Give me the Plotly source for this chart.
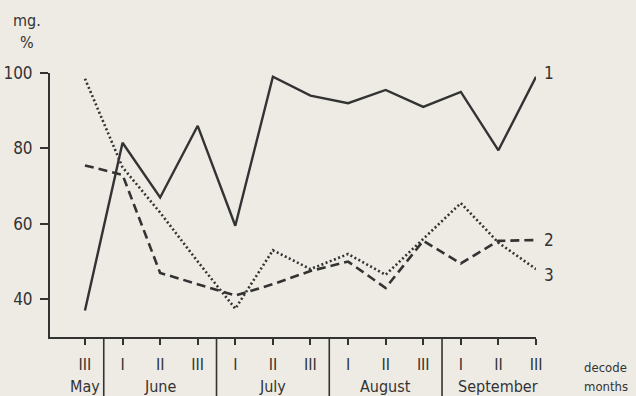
import plotly.graph_objects as go

decades = ["III", "I", "II", "III", "I", "II", "III", "I", "II", "III", "I", "II", "III"]
months = ["May", "June", "July", "August", "September"]
month_centers = [0, 2, 5, 8, 11]
month_bounds = [0.5, 3.5, 6.5, 9.5]
series1 = [37, 81.5, 67, 86, 59.5, 99, 94, 92, 95.5, 91, 95, 79.5, 99]
series2 = [75.5, 73, 47, 44, 41, 44, 47.5, 50, 43, 55.5, 49.5, 55.5, 55.7]
series3 = [98.5, 75, 63, 50, 37.5, 53, 48, 52, 46.5, 56, 65.5, 55, 48]
series_names = ["1", "2", "3"]
y_ticks = [40, 60, 80, 100]

INK = "#333333"
BG = "#eeebe5"
FONT = "Liberation Sans Narrow, DejaVu Sans Condensed, Roboto, sans-serif"

x = list(range(len(decades)))
fig = go.Figure()
styles = [("solid", 2.4), ("9px,5px", 2.6), ("2px,2.5px", 2.6)]
for ys, name, (dash, w) in zip([series1, series2, series3], series_names, styles):
    fig.add_trace(go.Scatter(x=x, y=ys, mode="lines", name=name,
                             line=dict(color=INK, width=w, dash=dash),
                             showlegend=False, cliponaxis=False))

# end labels
label_y = [series1[-1] + 1, series2[-1], series3[-1] - 1.5]
for name, yv in zip(series_names, label_y):
    fig.add_annotation(x=x[-1], y=yv, text=name, showarrow=False, xanchor="left",
                       xshift=6, font=dict(family=FONT, size=17, color=INK))

X0, X1 = -0.93, 12
Y0, Y1 = 30, 100
L, R, T, B = 50, 100, 73, 59
W, H = 636, 396
plot_h = H - T - B
plot_w = W - L - R

# month separators (extend below axis)
for mb in month_bounds:
    fig.add_shape(type="line", xref="paper", yref="paper",
                  x0=(mb - X0) / (X1 - X0), x1=(mb - X0) / (X1 - X0),
                  y0=0, y1=-B / plot_h, line=dict(color=INK, width=1.6))

for m, c in zip(months, month_centers):
    fig.add_annotation(x=c, xref="x", yref="paper", y=-(386 - (H - B)) / plot_h,
                       text=m, showarrow=False, yanchor="middle",
                       font=dict(family=FONT, size=16, color=INK))

fig.add_annotation(xref="paper", yref="paper", x=(582 - L) / plot_w, y=-(367 - (H - B)) / plot_h,
                   text="decode", showarrow=False, xanchor="left", yanchor="middle",
                   font=dict(family=FONT, size=13, color=INK))
fig.add_annotation(xref="paper", yref="paper", x=(582 - L) / plot_w, y=-(386 - (H - B)) / plot_h,
                   text="months", showarrow=False, xanchor="left", yanchor="middle",
                   font=dict(family=FONT, size=13, color=INK))
fig.add_annotation(xref="paper", yref="paper", x=(27 - L) / plot_w, y=(H - B - 20) / plot_h,
                   text="mg.", showarrow=False, xanchor="center", yanchor="middle",
                   font=dict(family=FONT, size=16, color=INK))
fig.add_annotation(xref="paper", yref="paper", x=(27 - L) / plot_w, y=(H - B - 42) / plot_h,
                   text="%", showarrow=False, xanchor="center", yanchor="middle",
                   font=dict(family=FONT, size=16, color=INK))

fig.update_layout(
    width=W, height=H,
    margin=dict(l=L, r=R, t=T, b=B, autoexpand=False),
    paper_bgcolor=BG, plot_bgcolor=BG,
    xaxis=dict(range=[X0, X1], tickmode="array", tickvals=x, ticktext=decades,
               automargin=False,
               showgrid=False, zeroline=False, showline=True, linecolor=INK, linewidth=2,
               ticks="outside", ticklen=6, tickwidth=1.5, tickcolor=INK,
               ticklabelstandoff=6,
               tickfont=dict(family=FONT, size=16, color=INK)),
    yaxis=dict(range=[Y0, Y1], tickmode="array", tickvals=y_ticks,
               automargin=False,
               showgrid=False, zeroline=False, showline=True, linecolor=INK, linewidth=2,
               ticks="outside", ticklen=8, tickwidth=1.5, tickcolor=INK,
               ticklabelstandoff=4,
               tickfont=dict(family=FONT, size=17, color=INK)),
)

fig.write_html("out.html")
